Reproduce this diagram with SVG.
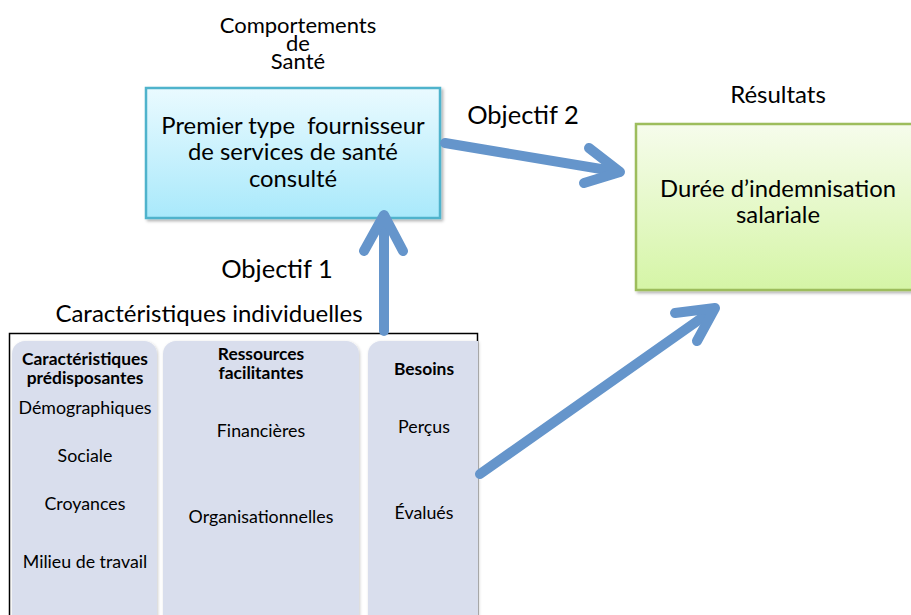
<svg xmlns="http://www.w3.org/2000/svg" width="911" height="615" viewBox="0 0 911 615">
<defs>
<linearGradient id="gBlue" x1="0" y1="0" x2="0" y2="1"><stop offset="0" stop-color="#eafaff"/><stop offset="1" stop-color="#a9e9fb"/></linearGradient>
<linearGradient id="gGreen" x1="0" y1="0" x2="0" y2="1"><stop offset="0" stop-color="#f6fcec"/><stop offset="1" stop-color="#d5f5a6"/></linearGradient>
<filter id="sh" x="-5%" y="-5%" width="115%" height="115%"><feDropShadow dx="2" dy="2" stdDeviation="1.5" flood-color="#000" flood-opacity="0.3"/></filter>
<filter id="sh2" x="-5%" y="-5%" width="115%" height="115%"><feDropShadow dx="1" dy="1" stdDeviation="1.5" flood-color="#000" flood-opacity="0.2"/></filter>
</defs>
<style>
text{font-family:Lato,"Open Sans","Liberation Sans",sans-serif;fill:#000;text-anchor:middle}
.top{font-size:22px}
.box{font-size:23.8px}
.obj{font-size:25.5px}
.lab{font-size:24px}
.t16{font-size:17.8px}
.b16{font-size:17.4px;font-weight:bold}
.col{fill:#d9deed;filter:url(#sh2)}
.arr{fill:none;stroke:#6595cb;stroke-width:10;stroke-linecap:round;stroke-linejoin:round}
</style>
<g id="label-comportements">
<text class="top" x="298" y="33">Comportements</text>
<text class="top" x="298" y="51">de</text>
<text class="top" x="298" y="69">Santé</text>
</g>
<g id="node-premier">
<rect x="146" y="88" width="294" height="130" fill="url(#gBlue)" stroke="#4fb3cc" stroke-width="2.5" filter="url(#sh)"/>
<text class="box" x="293" y="134" xml:space="preserve">Premier type  fournisseur</text>
<text class="box" x="293" y="160">de services de santé</text>
<text class="box" x="293" y="187">consulté</text>
</g>
<g id="label-resultats"><text class="lab" x="778" y="103">Résultats</text></g>
<g id="node-duree">
<rect x="636" y="124" width="290" height="166" fill="url(#gGreen)" stroke="#9dbd5b" stroke-width="2.5" filter="url(#sh)"/>
<text class="box" x="778" y="197">Durée d’indemnisation</text>
<text class="box" x="778" y="223">salariale</text>
</g>
<g id="label-obj2"><text class="obj" x="523" y="124">Objectif 2</text></g>
<g id="label-obj1"><text class="obj" x="277" y="278">Objectif 1</text></g>
<g id="label-caract"><text class="lab" x="209" y="322">Caractéristiques individuelles</text></g>
<g id="node-individuelles">
<rect x="9.5" y="333.5" width="468" height="290" fill="#fff" stroke="#000" stroke-width="1.5"/>
<g id="col-predisposantes">
<rect class="col" x="12" y="341" width="145" height="290" rx="13"/>
<text class="b16" x="85" y="365">Caractéristiques</text>
<text class="b16" x="85" y="384">prédisposantes</text>
<text class="t16" x="85" y="414">Démographiques</text>
<text class="t16" x="85" y="462">Sociale</text>
<text class="t16" x="85" y="510">Croyances</text>
<text class="t16" x="85" y="568">Milieu de travail</text>
</g>
<g id="col-ressources">
<rect class="col" x="163" y="341" width="196" height="290" rx="13"/>
<text class="b16" x="261" y="360">Ressources</text>
<text class="b16" x="261" y="379">facilitantes</text>
<text class="t16" x="261" y="437">Financières</text>
<text class="t16" x="261" y="523">Organisationnelles</text>
</g>
<g id="col-besoins">
<path class="col" d="M478 341 H381 A13 13 0 0 0 368 354 V631 H478 Z"/>
<text class="b16" x="424" y="375">Besoins</text>
<text class="t16" x="424" y="433">Perçus</text>
<text class="t16" x="424" y="519">Évalués</text>
</g>
</g>
<g id="connectors">
<path class="arr" d="M384 331 V216"/>
<path class="arr" d="M364 251 L384 215 L403 251"/>
<path class="arr" d="M445 143 L619 172"/>
<path class="arr" d="M589 148 L620 172 L584 183"/>
<path class="arr" d="M480 474 L713 310"/>
<path class="arr" d="M675 313 L715 308 L697 341"/>
</g>
</svg>
